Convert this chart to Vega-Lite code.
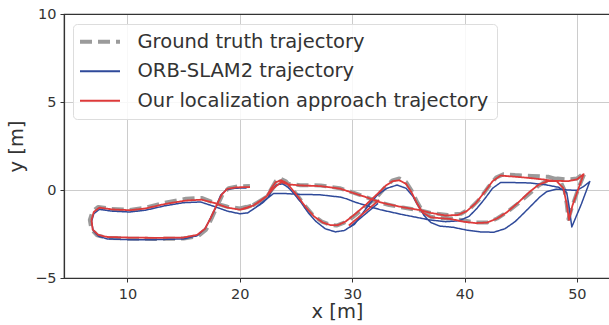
{
  "$schema": "https://vega.github.io/schema/vega-lite/v6.json",
  "width": 546,
  "height": 264,
  "autosize": "none",
  "padding": {"left": 64, "top": 14, "right": 0, "bottom": 47},
  "background": "white",
  "config": {
    "font": "DejaVu Sans",
    "view": {"stroke": "#333333", "strokeWidth": 1.2},
    "axis": {
      "labelFont": "DejaVu Sans", "titleFont": "DejaVu Sans",
      "labelFontSize": 14.5, "titleFontSize": 19.5, "labelColor": "#333333", "titleColor": "#333333",
      "titleFontWeight": "normal", "domainColor": "#333333", "domainWidth": 1.2, "tickColor": "#333333", "tickSize": 4,
      "gridColor": "#cccccc", "gridWidth": 1
    }
  },
  "data": {"values": [
{"s":"G","g":1,"o":1,"x":20.0,"y":-1.05},{"s":"G","g":1,"o":2,"x":20.6,"y":-0.98},{"s":"G","g":1,"o":3,"x":21.2,"y":-0.85},{"s":"G","g":1,"o":4,"x":21.8,"y":-0.62},{"s":"G","g":1,"o":5,"x":22.4,"y":-0.38},{"s":"G","g":1,"o":6,"x":22.8,"y":0.05},{"s":"G","g":1,"o":7,"x":23.2,"y":0.5},{"s":"G","g":1,"o":8,"x":23.6,"y":0.65},{"s":"G","g":1,"o":9,"x":24.1,"y":0.5},{"s":"G","g":1,"o":10,"x":24.6,"y":0.1},
{"s":"G","g":1,"o":11,"x":25.1,"y":-0.3},{"s":"G","g":1,"o":12,"x":25.8,"y":-0.9},{"s":"G","g":1,"o":13,"x":26.5,"y":-1.42},{"s":"G","g":1,"o":14,"x":27.3,"y":-1.8},{"s":"G","g":1,"o":15,"x":28.0,"y":-1.97},{"s":"G","g":1,"o":16,"x":28.6,"y":-2.02},{"s":"G","g":1,"o":17,"x":29.3,"y":-1.85},{"s":"G","g":1,"o":18,"x":30.1,"y":-1.52},{"s":"G","g":1,"o":19,"x":31.2,"y":-0.95},{"s":"G","g":1,"o":20,"x":32.2,"y":-0.4},
{"s":"G","g":1,"o":21,"x":33.0,"y":0.2},{"s":"G","g":1,"o":22,"x":33.6,"y":0.55},{"s":"G","g":1,"o":23,"x":34.2,"y":0.66},{"s":"G","g":1,"o":24,"x":34.8,"y":0.45},{"s":"G","g":1,"o":25,"x":35.3,"y":-0.05},{"s":"G","g":1,"o":26,"x":35.8,"y":-0.7},{"s":"G","g":1,"o":27,"x":36.3,"y":-1.25},{"s":"G","g":1,"o":28,"x":37.0,"y":-1.52},{"s":"G","g":1,"o":29,"x":37.8,"y":-1.6},{"s":"G","g":1,"o":30,"x":38.8,"y":-1.62},
{"s":"G","g":1,"o":31,"x":39.9,"y":-1.72},{"s":"G","g":1,"o":32,"x":41.0,"y":-1.85},{"s":"G","g":1,"o":33,"x":42.0,"y":-1.85},{"s":"G","g":1,"o":34,"x":42.9,"y":-1.62},{"s":"G","g":1,"o":35,"x":43.8,"y":-1.25},{"s":"G","g":1,"o":36,"x":44.8,"y":-0.75},{"s":"G","g":1,"o":37,"x":45.8,"y":-0.2},{"s":"G","g":1,"o":38,"x":46.6,"y":0.25},{"s":"G","g":1,"o":39,"x":47.4,"y":0.55},{"s":"G","g":1,"o":40,"x":48.3,"y":0.65},
{"s":"G","g":1,"o":41,"x":49.2,"y":0.6},{"s":"G","g":1,"o":42,"x":50.0,"y":0.65},{"s":"G","g":1,"o":43,"x":50.7,"y":0.98},{"s":"G","g":1,"o":44,"x":50.2,"y":0.2},{"s":"G","g":1,"o":45,"x":49.6,"y":-0.9},{"s":"G","g":1,"o":46,"x":49.25,"y":-1.65},{"s":"G","g":1,"o":47,"x":49.1,"y":-0.8},{"s":"G","g":1,"o":48,"x":48.9,"y":0.0},{"s":"G","g":1,"o":49,"x":48.5,"y":0.55},{"s":"G","g":1,"o":50,"x":47.5,"y":0.75},
{"s":"G","g":1,"o":51,"x":46.0,"y":0.8},{"s":"G","g":1,"o":52,"x":44.5,"y":0.85},{"s":"G","g":1,"o":53,"x":43.5,"y":0.9},{"s":"G","g":1,"o":54,"x":42.8,"y":0.7},{"s":"G","g":1,"o":55,"x":42.1,"y":0.15},{"s":"G","g":1,"o":56,"x":41.3,"y":-0.55},{"s":"G","g":1,"o":57,"x":40.5,"y":-1.05},{"s":"G","g":1,"o":58,"x":39.7,"y":-1.35},{"s":"G","g":1,"o":59,"x":38.5,"y":-1.42},{"s":"G","g":1,"o":60,"x":37.0,"y":-1.3},
{"s":"G","g":1,"o":61,"x":36.0,"y":-1.15},{"s":"G","g":1,"o":62,"x":34.5,"y":-1.0},{"s":"G","g":1,"o":63,"x":33.3,"y":-0.85},{"s":"G","g":1,"o":64,"x":32.4,"y":-0.7},{"s":"G","g":1,"o":65,"x":31.3,"y":-0.42},{"s":"G","g":1,"o":66,"x":30.1,"y":-0.15},{"s":"G","g":1,"o":67,"x":28.9,"y":0.1},{"s":"G","g":1,"o":68,"x":27.2,"y":0.26},{"s":"G","g":1,"o":69,"x":25.4,"y":0.27},{"s":"G","g":1,"o":70,"x":24.3,"y":0.35},
{"s":"G","g":1,"o":71,"x":23.6,"y":0.5},{"s":"G","g":1,"o":72,"x":23.0,"y":0.15},{"s":"G","g":1,"o":73,"x":22.4,"y":-0.38},{"s":"G","g":1,"o":74,"x":21.2,"y":-0.85},{"s":"G","g":1,"o":75,"x":20.0,"y":-1.05},{"s":"G","g":1,"o":76,"x":18.9,"y":-0.95},{"s":"G","g":1,"o":77,"x":17.8,"y":-0.75},{"s":"G","g":1,"o":78,"x":16.6,"y":-0.45},{"s":"G","g":1,"o":79,"x":15.2,"y":-0.5},{"s":"G","g":1,"o":80,"x":13.3,"y":-0.72},
{"s":"G","g":1,"o":81,"x":11.6,"y":-1.0},{"s":"G","g":1,"o":82,"x":10.2,"y":-1.13},{"s":"G","g":1,"o":83,"x":8.6,"y":-1.08},{"s":"G","g":1,"o":84,"x":7.4,"y":-0.96},{"s":"G","g":1,"o":85,"x":6.9,"y":-1.2},{"s":"G","g":1,"o":86,"x":6.65,"y":-1.7},{"s":"G","g":1,"o":87,"x":6.8,"y":-2.25},{"s":"G","g":1,"o":88,"x":7.3,"y":-2.58},{"s":"G","g":1,"o":89,"x":8.2,"y":-2.72},{"s":"G","g":1,"o":90,"x":10.0,"y":-2.76},
{"s":"G","g":1,"o":91,"x":12.5,"y":-2.78},{"s":"G","g":1,"o":92,"x":15.0,"y":-2.76},{"s":"G","g":1,"o":93,"x":16.3,"y":-2.62},{"s":"G","g":1,"o":94,"x":17.0,"y":-2.25},{"s":"G","g":1,"o":95,"x":17.5,"y":-1.6},{"s":"G","g":1,"o":96,"x":18.0,"y":-0.9},{"s":"G","g":1,"o":97,"x":18.5,"y":-0.2},{"s":"G","g":1,"o":98,"x":19.0,"y":0.1},{"s":"G","g":1,"o":99,"x":19.8,"y":0.2},{"s":"G","g":1,"o":100,"x":20.9,"y":0.23},

{"s":"O","g":1,"o":1,"x":20.0,"y":-1.35},{"s":"O","g":1,"o":2,"x":20.7,"y":-1.3},{"s":"O","g":1,"o":3,"x":21.4,"y":-1.0},{"s":"O","g":1,"o":4,"x":22.0,"y":-0.75},{"s":"O","g":1,"o":5,"x":22.5,"y":-0.45},{"s":"O","g":1,"o":6,"x":22.9,"y":0.05},{"s":"O","g":1,"o":7,"x":23.3,"y":0.3},{"s":"O","g":1,"o":8,"x":23.8,"y":0.35},{"s":"O","g":1,"o":9,"x":24.3,"y":0.15},{"s":"O","g":1,"o":10,"x":24.8,"y":-0.2},
{"s":"O","g":1,"o":11,"x":25.4,"y":-0.66},{"s":"O","g":1,"o":12,"x":26.1,"y":-1.3},{"s":"O","g":1,"o":13,"x":26.8,"y":-1.8},{"s":"O","g":1,"o":14,"x":27.6,"y":-2.2},{"s":"O","g":1,"o":15,"x":28.5,"y":-2.38},{"s":"O","g":1,"o":16,"x":29.3,"y":-2.3},{"s":"O","g":1,"o":17,"x":30.2,"y":-1.95},{"s":"O","g":1,"o":18,"x":30.9,"y":-1.35},{"s":"O","g":1,"o":19,"x":31.6,"y":-0.74},{"s":"O","g":1,"o":20,"x":32.3,"y":-0.25},
{"s":"O","g":1,"o":21,"x":33.1,"y":0.1},{"s":"O","g":1,"o":22,"x":34.0,"y":0.28},{"s":"O","g":1,"o":23,"x":34.8,"y":0.1},{"s":"O","g":1,"o":24,"x":35.4,"y":-0.35},{"s":"O","g":1,"o":25,"x":35.9,"y":-0.9},{"s":"O","g":1,"o":26,"x":36.4,"y":-1.45},{"s":"O","g":1,"o":27,"x":37.0,"y":-1.85},{"s":"O","g":1,"o":28,"x":37.8,"y":-2.05},{"s":"O","g":1,"o":29,"x":39.0,"y":-2.12},{"s":"O","g":1,"o":30,"x":40.2,"y":-2.28},
{"s":"O","g":1,"o":31,"x":41.4,"y":-2.38},{"s":"O","g":1,"o":32,"x":42.6,"y":-2.4},{"s":"O","g":1,"o":33,"x":43.6,"y":-2.2},{"s":"O","g":1,"o":34,"x":44.5,"y":-1.8},{"s":"O","g":1,"o":35,"x":45.3,"y":-1.3},{"s":"O","g":1,"o":36,"x":46.0,"y":-0.85},{"s":"O","g":1,"o":37,"x":46.7,"y":-0.4},{"s":"O","g":1,"o":38,"x":47.3,"y":-0.1},{"s":"O","g":1,"o":39,"x":48.2,"y":0.05},{"s":"O","g":1,"o":40,"x":49.2,"y":0.0},
{"s":"O","g":1,"o":41,"x":50.0,"y":-0.02},{"s":"O","g":1,"o":42,"x":50.6,"y":0.2},{"s":"O","g":1,"o":43,"x":51.15,"y":0.48},{"s":"O","g":1,"o":44,"x":50.4,"y":-0.8},{"s":"O","g":1,"o":45,"x":49.55,"y":-2.1},{"s":"O","g":1,"o":46,"x":49.3,"y":-0.9},{"s":"O","g":1,"o":47,"x":49.1,"y":-0.15},{"s":"O","g":1,"o":48,"x":48.4,"y":0.15},{"s":"O","g":1,"o":49,"x":47.2,"y":0.3},{"s":"O","g":1,"o":50,"x":45.8,"y":0.4},
{"s":"O","g":1,"o":51,"x":44.5,"y":0.42},{"s":"O","g":1,"o":52,"x":43.2,"y":0.42},{"s":"O","g":1,"o":53,"x":42.5,"y":0.1},{"s":"O","g":1,"o":54,"x":41.8,"y":-0.5},{"s":"O","g":1,"o":55,"x":41.1,"y":-1.05},{"s":"O","g":1,"o":56,"x":40.4,"y":-1.5},{"s":"O","g":1,"o":57,"x":39.5,"y":-1.75},{"s":"O","g":1,"o":58,"x":38.3,"y":-1.8},{"s":"O","g":1,"o":59,"x":36.9,"y":-1.7},{"s":"O","g":1,"o":60,"x":34.5,"y":-1.4},
{"s":"O","g":1,"o":61,"x":32.5,"y":-1.12},{"s":"O","g":1,"o":62,"x":31.6,"y":-0.95},{"s":"O","g":1,"o":63,"x":30.3,"y":-0.7},{"s":"O","g":1,"o":64,"x":29.5,"y":-0.5},{"s":"O","g":1,"o":65,"x":28.9,"y":-0.4},{"s":"O","g":1,"o":66,"x":27.1,"y":-0.27},{"s":"O","g":1,"o":67,"x":25.4,"y":-0.25},{"s":"O","g":1,"o":68,"x":24.0,"y":-0.2},{"s":"O","g":1,"o":69,"x":23.0,"y":-0.2},{"s":"O","g":1,"o":70,"x":22.5,"y":-0.45},
{"s":"O","g":1,"o":71,"x":21.4,"y":-1.0},{"s":"O","g":1,"o":72,"x":20.7,"y":-1.3},{"s":"O","g":1,"o":73,"x":20.0,"y":-1.35},{"s":"O","g":1,"o":74,"x":18.9,"y":-1.2},{"s":"O","g":1,"o":75,"x":17.8,"y":-0.95},{"s":"O","g":1,"o":76,"x":16.5,"y":-0.68},{"s":"O","g":1,"o":77,"x":15.0,"y":-0.72},{"s":"O","g":1,"o":78,"x":13.3,"y":-0.9},{"s":"O","g":1,"o":79,"x":11.6,"y":-1.15},{"s":"O","g":1,"o":80,"x":10.2,"y":-1.25},
{"s":"O","g":1,"o":81,"x":8.6,"y":-1.2},{"s":"O","g":1,"o":82,"x":7.5,"y":-1.1},{"s":"O","g":1,"o":83,"x":7.0,"y":-1.35},{"s":"O","g":1,"o":84,"x":6.8,"y":-1.8},{"s":"O","g":1,"o":85,"x":6.95,"y":-2.3},{"s":"O","g":1,"o":86,"x":7.4,"y":-2.62},{"s":"O","g":1,"o":87,"x":8.2,"y":-2.78},{"s":"O","g":1,"o":88,"x":10.0,"y":-2.82},{"s":"O","g":1,"o":89,"x":12.5,"y":-2.82},{"s":"O","g":1,"o":90,"x":15.0,"y":-2.78},
{"s":"O","g":1,"o":91,"x":16.2,"y":-2.6},{"s":"O","g":1,"o":92,"x":16.9,"y":-2.2},{"s":"O","g":1,"o":93,"x":17.4,"y":-1.6},{"s":"O","g":1,"o":94,"x":17.9,"y":-0.95},{"s":"O","g":1,"o":95,"x":18.3,"y":-0.3},{"s":"O","g":1,"o":96,"x":18.8,"y":0.02},{"s":"O","g":1,"o":97,"x":19.5,"y":0.1},{"s":"O","g":1,"o":98,"x":20.6,"y":0.12},
{"s":"O","g":2,"o":1,"x":29.8,"y":-2.1},{"s":"O","g":2,"o":2,"x":32.3,"y":-0.76},

{"s":"R","g":1,"o":1,"x":20.0,"y":-1.12},{"s":"R","g":1,"o":2,"x":20.6,"y":-1.03},{"s":"R","g":1,"o":3,"x":21.2,"y":-0.88},{"s":"R","g":1,"o":4,"x":21.8,"y":-0.64},{"s":"R","g":1,"o":5,"x":22.4,"y":-0.35},{"s":"R","g":1,"o":6,"x":22.8,"y":0.1},{"s":"R","g":1,"o":7,"x":23.2,"y":0.45},{"s":"R","g":1,"o":8,"x":23.7,"y":0.55},{"s":"R","g":1,"o":9,"x":24.2,"y":0.38},{"s":"R","g":1,"o":10,"x":24.7,"y":0.0},
{"s":"R","g":1,"o":11,"x":25.2,"y":-0.4},{"s":"R","g":1,"o":12,"x":25.9,"y":-1.0},{"s":"R","g":1,"o":13,"x":26.6,"y":-1.5},{"s":"R","g":1,"o":14,"x":27.4,"y":-1.85},{"s":"R","g":1,"o":15,"x":28.1,"y":-2.0},{"s":"R","g":1,"o":16,"x":28.7,"y":-2.0},{"s":"R","g":1,"o":17,"x":29.4,"y":-1.8},{"s":"R","g":1,"o":18,"x":30.2,"y":-1.4},{"s":"R","g":1,"o":19,"x":31.2,"y":-0.85},{"s":"R","g":1,"o":20,"x":32.2,"y":-0.25},
{"s":"R","g":1,"o":21,"x":33.0,"y":0.25},{"s":"R","g":1,"o":22,"x":33.6,"y":0.5},{"s":"R","g":1,"o":23,"x":34.2,"y":0.55},{"s":"R","g":1,"o":24,"x":34.8,"y":0.35},{"s":"R","g":1,"o":25,"x":35.3,"y":-0.15},{"s":"R","g":1,"o":26,"x":35.8,"y":-0.8},{"s":"R","g":1,"o":27,"x":36.3,"y":-1.3},{"s":"R","g":1,"o":28,"x":37.0,"y":-1.55},{"s":"R","g":1,"o":29,"x":37.8,"y":-1.6},{"s":"R","g":1,"o":30,"x":38.8,"y":-1.65},
{"s":"R","g":1,"o":31,"x":39.9,"y":-1.8},{"s":"R","g":1,"o":32,"x":41.0,"y":-1.88},{"s":"R","g":1,"o":33,"x":42.0,"y":-1.85},{"s":"R","g":1,"o":34,"x":42.9,"y":-1.62},{"s":"R","g":1,"o":35,"x":43.8,"y":-1.25},{"s":"R","g":1,"o":36,"x":44.8,"y":-0.7},{"s":"R","g":1,"o":37,"x":45.8,"y":-0.1},{"s":"R","g":1,"o":38,"x":46.6,"y":0.3},{"s":"R","g":1,"o":39,"x":47.4,"y":0.5},{"s":"R","g":1,"o":40,"x":48.3,"y":0.52},
{"s":"R","g":1,"o":41,"x":49.2,"y":0.5},{"s":"R","g":1,"o":42,"x":50.0,"y":0.6},{"s":"R","g":1,"o":43,"x":50.6,"y":0.9},{"s":"R","g":1,"o":44,"x":50.1,"y":0.0},{"s":"R","g":1,"o":45,"x":49.6,"y":-0.9},{"s":"R","g":1,"o":46,"x":49.3,"y":-1.7},{"s":"R","g":1,"o":47,"x":49.1,"y":-0.8},{"s":"R","g":1,"o":48,"x":48.8,"y":0.1},{"s":"R","g":1,"o":49,"x":48.2,"y":0.5},{"s":"R","g":1,"o":50,"x":47.0,"y":0.6},
{"s":"R","g":1,"o":51,"x":45.5,"y":0.7},{"s":"R","g":1,"o":52,"x":44.0,"y":0.78},{"s":"R","g":1,"o":53,"x":43.2,"y":0.82},{"s":"R","g":1,"o":54,"x":42.5,"y":0.5},{"s":"R","g":1,"o":55,"x":41.8,"y":-0.1},{"s":"R","g":1,"o":56,"x":41.0,"y":-0.75},{"s":"R","g":1,"o":57,"x":40.2,"y":-1.2},{"s":"R","g":1,"o":58,"x":39.4,"y":-1.42},{"s":"R","g":1,"o":59,"x":38.3,"y":-1.45},{"s":"R","g":1,"o":60,"x":37.0,"y":-1.3},
{"s":"R","g":1,"o":61,"x":36.0,"y":-1.14},{"s":"R","g":1,"o":62,"x":34.5,"y":-0.98},{"s":"R","g":1,"o":63,"x":33.3,"y":-0.82},{"s":"R","g":1,"o":64,"x":32.4,"y":-0.68},{"s":"R","g":1,"o":65,"x":31.3,"y":-0.42},{"s":"R","g":1,"o":66,"x":30.1,"y":-0.17},{"s":"R","g":1,"o":67,"x":28.9,"y":0.08},{"s":"R","g":1,"o":68,"x":27.2,"y":0.22},{"s":"R","g":1,"o":69,"x":25.4,"y":0.26},{"s":"R","g":1,"o":70,"x":24.3,"y":0.32},
{"s":"R","g":1,"o":71,"x":23.7,"y":0.45},{"s":"R","g":1,"o":72,"x":23.0,"y":0.1},{"s":"R","g":1,"o":73,"x":22.4,"y":-0.35},{"s":"R","g":1,"o":74,"x":21.2,"y":-0.88},{"s":"R","g":1,"o":75,"x":20.0,"y":-1.12},{"s":"R","g":1,"o":76,"x":18.9,"y":-1.0},{"s":"R","g":1,"o":77,"x":17.8,"y":-0.75},{"s":"R","g":1,"o":78,"x":16.6,"y":-0.55},{"s":"R","g":1,"o":79,"x":15.2,"y":-0.6},{"s":"R","g":1,"o":80,"x":13.3,"y":-0.8},
{"s":"R","g":1,"o":81,"x":11.6,"y":-1.05},{"s":"R","g":1,"o":82,"x":10.2,"y":-1.15},{"s":"R","g":1,"o":83,"x":8.6,"y":-1.1},{"s":"R","g":1,"o":84,"x":7.5,"y":-1.0},{"s":"R","g":1,"o":85,"x":7.0,"y":-1.25},{"s":"R","g":1,"o":86,"x":6.8,"y":-1.7},{"s":"R","g":1,"o":87,"x":6.9,"y":-2.25},{"s":"R","g":1,"o":88,"x":7.4,"y":-2.55},{"s":"R","g":1,"o":89,"x":8.2,"y":-2.67},{"s":"R","g":1,"o":90,"x":10.0,"y":-2.7},
{"s":"R","g":1,"o":91,"x":12.5,"y":-2.72},{"s":"R","g":1,"o":92,"x":15.0,"y":-2.7},{"s":"R","g":1,"o":93,"x":16.2,"y":-2.55},{"s":"R","g":1,"o":94,"x":16.9,"y":-2.2},{"s":"R","g":1,"o":95,"x":17.4,"y":-1.6},{"s":"R","g":1,"o":96,"x":17.9,"y":-0.9},{"s":"R","g":1,"o":97,"x":18.4,"y":-0.25},{"s":"R","g":1,"o":98,"x":18.9,"y":0.07},{"s":"R","g":1,"o":99,"x":19.7,"y":0.15},{"s":"R","g":1,"o":100,"x":20.9,"y":0.17},
{"s":"R","g":2,"o":1,"x":29.7,"y":-2.02},{"s":"R","g":2,"o":2,"x":32.4,"y":-0.57}
  ]},
  "encoding": {
    "x": {"field": "x", "type": "quantitative", "scale": {"domain": [4.35, 52.95], "nice": false, "zero": false},
          "axis": {"values": [10, 20, 30, 40, 50], "title": "x [m]", "labelPadding": 5, "titlePadding": 2}},
    "y": {"field": "y", "type": "quantitative", "scale": {"domain": [-5, 10], "nice": false, "zero": false},
          "axis": {"values": [-5, 0, 5, 10], "title": "y [m]", "labelPadding": 4, "titlePadding": 8,
                   "gridColor": {"condition": {"test": "datum.value == 10", "value": "#333333"}, "value": "#cccccc"}}},
    "color": {"field": "s", "type": "nominal",
      "scale": {"domain": ["G", "O", "R"], "range": ["#9b9b9b", "#2f4a9a", "#dd3a3a"]},
      "legend": {
        "title": null, "orient": "none", "legendX": 9, "legendY": 10,
        "labelExpr": "datum.value == 'G' ? 'Ground truth trajectory' : datum.value == 'O' ? 'ORB-SLAM2 trajectory' : 'Our localization approach trajectory'",
        "labelFont": "DejaVu Sans", "labelFontSize": 19.5, "labelColor": "#333333", "labelLimit": 500,
        "symbolType": "M-2,0L2,0", "symbolSize": 400, "labelOffset": 37, "rowPadding": 8.5,
        "padding": 8, "fillColor": "rgba(255,255,255,0.85)", "strokeColor": "#dddddd", "cornerRadius": 4,
        "encode": {"symbols": {"update": {"strokeWidth": {"signal": "datum.value == 'G' ? 4 : 1.8"}, "xc": {"value": 19}}}}
      }},
    "strokeDash": {"field": "s", "type": "nominal", "scale": {"domain": ["G", "O", "R"], "range": [[12, 6], [1, 0], [1, 0]]}},
    "detail": {"field": "g", "type": "nominal"},
    "order": {"field": "o", "type": "quantitative"}
  },
  "layer": [
    {"transform": [{"filter": "datum.s == 'G'"}], "mark": {"type": "line", "strokeCap": "butt", "strokeJoin": "round", "strokeWidth": 4}},
    {"transform": [{"filter": "datum.s == 'O'"}], "mark": {"type": "line", "strokeJoin": "round", "strokeWidth": 1.5}},
    {"transform": [{"filter": "datum.s == 'R'"}], "mark": {"type": "line", "strokeJoin": "round", "strokeWidth": 1.8}}
  ]
}
